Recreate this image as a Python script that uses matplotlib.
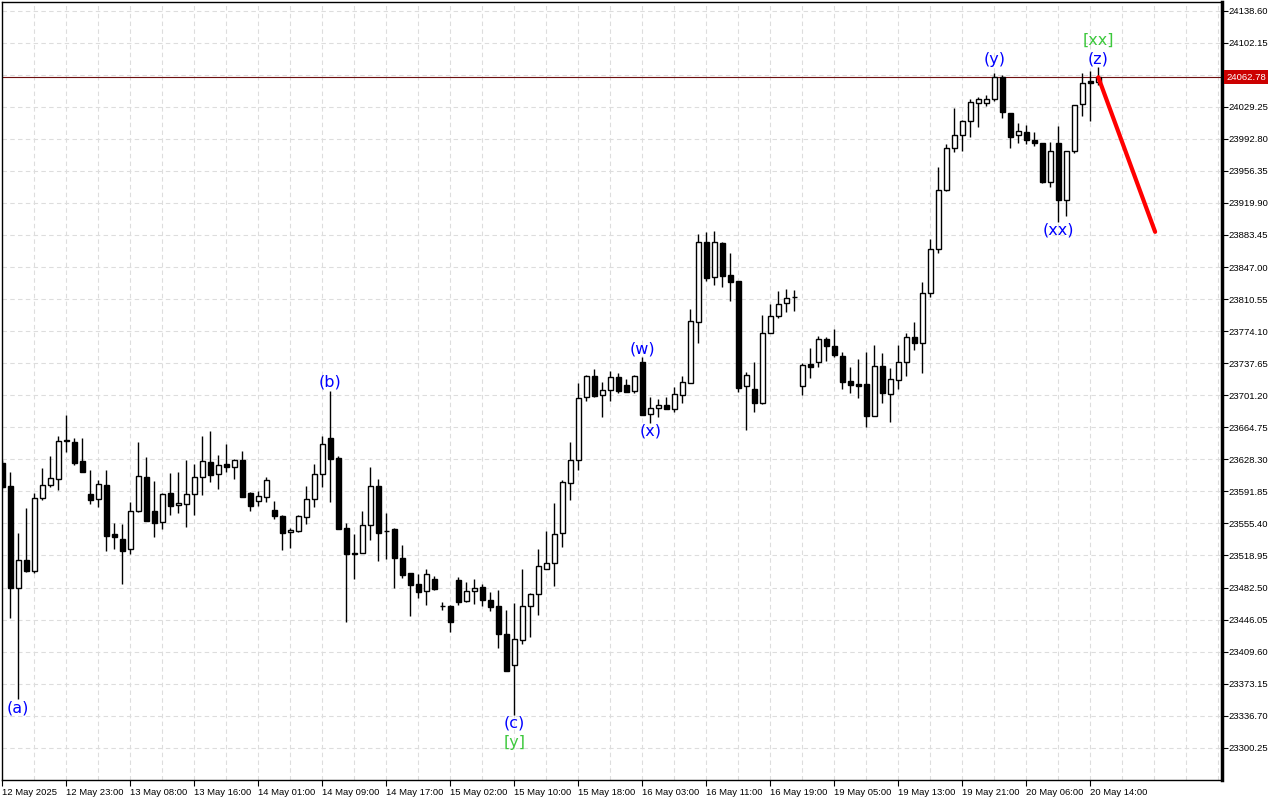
import matplotlib
matplotlib.use("Agg")
import matplotlib.pyplot as plt
import matplotlib.transforms as mtransforms

# ---------------- data ----------------
opens = [23624.5, 23598.0, 23482.3, 23513.5, 23501.7, 23584.0, 23598.8, 23605.6, 23650.3, 23648.0,
         23626.4, 23588.6, 23582.9, 23598.8, 23543.4, 23537.4, 23526.0, 23569.2, 23607.9, 23569.6,
         23556.7, 23590.0, 23576.0, 23577.2, 23588.6, 23607.9, 23625.0, 23611.3, 23623.0, 23619.3,
         23627.6, 23590.4, 23580.6, 23585.8, 23570.7, 23563.9, 23545.3, 23546.8, 23563.1, 23582.9,
         23611.3, 23652.6, 23629.8, 23549.9, 23521.5, 23522.1, 23553.3, 23597.7, 23547.2, 23548.8,
         23516.1, 23498.7, 23486.5, 23478.2, 23492.2, 23461.6, 23461.5, 23490.8, 23466.9, 23478.2,
         23482.8, 23468.0, 23461.2, 23429.7, 23394.1, 23422.5, 23461.2, 23474.8, 23503.9, 23510.1,
         23544.2, 23601.1, 23627.6, 23699.2, 23723.1, 23701.2, 23706.8, 23721.6, 23712.9, 23706.4,
         23738.7, 23679.5, 23686.4, 23689.8, 23685.2, 23701.2, 23715.5, 23784.2, 23875.2, 23835.4,
         23874.4, 23837.6, 23830.8, 23711.7, 23708.0, 23692.1, 23772.3, 23791.7, 23805.8, 23813.2,
         23711.4, 23736.4, 23738.7, 23764.8, 23756.9, 23745.8, 23717.1, 23713.7, 23714.0, 23677.9,
         23734.1, 23702.3, 23718.2, 23738.7, 23767.1, 23760.1, 23817.2, 23867.2, 23934.3, 23982.1,
         23996.8, 24012.8, 24033.2, 24033.2, 24037.8, 24063.2, 24021.9, 23996.8, 24000.3, 23991.2,
         23987.8, 23944.1, 23987.8, 23923.3, 23978.6, 24032.1, 24058.6, 24057.8]
highs = [23627.6, 23613.9, 23544.2, 23573.0, 23589.7, 23618.1, 23632.1, 23654.9, 23678.7, 23652.2,
         23652.2, 23616.2, 23604.8, 23616.2, 23555.6, 23554.4, 23579.5, 23648.0, 23630.6, 23603.7,
         23590.5, 23613.1, 23613.9, 23627.6, 23622.7, 23654.9, 23660.5, 23633.3, 23645.4, 23628.7,
         23637.8, 23591.7, 23592.3, 23608.2, 23580.9, 23565.0, 23549.9, 23564.7, 23598.0, 23623.0,
         23654.9, 23706.4, 23632.1, 23555.6, 23543.4, 23569.6, 23619.9, 23606.0, 23566.9, 23550.2,
         23530.9, 23499.0, 23497.6, 23503.6, 23495.3, 23465.7, 23462.3, 23494.2, 23488.8, 23492.2,
         23486.2, 23477.1, 23479.7, 23457.0, 23464.6, 23503.6, 23476.0, 23526.3, 23546.8, 23579.0,
         23604.8, 23648.0, 23715.5, 23723.7, 23730.7, 23715.9, 23728.4, 23726.9, 23719.3, 23724.2,
         23744.4, 23699.6, 23696.9, 23698.9, 23710.2, 23723.1, 23799.0, 23884.6, 23886.5, 23888.3,
         23875.0, 23862.6, 23831.1, 23728.0, 23738.7, 23792.5, 23805.0, 23819.8, 23821.7, 23820.6,
         23737.5, 23754.6, 23768.6, 23767.1, 23776.2, 23750.4, 23733.3, 23742.1, 23750.4, 23758.0,
         23748.9, 23732.2, 23758.0, 23771.7, 23784.3, 23829.7, 23878.6, 23960.5, 23986.6, 24027.6,
         24014.2, 24038.1, 24040.7, 24042.7, 24067.7, 24065.4, 24022.2, 24010.5, 24008.2, 24000.6,
         23988.1, 23989.6, 24007.1, 23979.0, 24031.3, 24068.0, 24069.6, 24074.2]
lows = [23595.7, 23448.2, 23355.4, 23500.5, 23499.4, 23582.6, 23596.5, 23593.4, 23637.0, 23622.2,
        23613.4, 23577.5, 23574.5, 23524.4, 23526.7, 23486.2, 23521.0, 23568.4, 23557.6, 23539.7,
        23549.4, 23565.0, 23567.6, 23551.7, 23565.0, 23587.8, 23602.9, 23594.6, 23614.3, 23606.0,
        23584.9, 23569.9, 23575.3, 23580.1, 23560.8, 23525.2, 23527.8, 23546.0, 23554.8, 23573.8,
        23596.5, 23580.1, 23548.8, 23443.7, 23491.9, 23521.2, 23536.6, 23513.0, 23514.6, 23482.3,
        23493.0, 23450.5, 23470.3, 23462.7, 23479.7, 23457.0, 23432.3, 23463.0, 23465.7, 23463.5,
        23461.2, 23456.2, 23414.1, 23387.6, 23337.6, 23418.0, 23426.6, 23451.3, 23503.3, 23484.3,
        23529.0, 23582.4, 23616.5, 23695.0, 23699.6, 23676.8, 23695.0, 23704.1, 23704.9, 23704.1,
        23678.7, 23670.0, 23676.8, 23685.0, 23682.5, 23692.1, 23715.1, 23760.3, 23831.5, 23826.3,
        23824.7, 23808.7, 23705.2, 23661.7, 23682.5, 23691.3, 23772.0, 23789.4, 23796.2, 23797.4,
        23701.8, 23721.2, 23733.7, 23739.8, 23745.0, 23708.7, 23704.1, 23698.1, 23665.4, 23677.6,
        23692.7, 23671.1, 23708.7, 23723.1, 23753.0, 23726.9, 23813.3, 23863.3, 23934.0, 23978.2,
        23979.3, 23995.3, 24005.9, 24030.5, 24035.9, 24016.2, 23982.1, 23987.8, 23986.6, 23985.0,
        23942.9, 23938.4, 23898.6, 23905.4, 23977.1, 24018.8, 24013.5, 24054.1]
closes = [23597.2, 23482.3, 23513.5, 23501.7, 23584.0, 23598.8, 23606.8, 23648.8, 23648.8, 23624.5,
          23614.3, 23582.4, 23599.9, 23541.5, 23539.7, 23524.4, 23569.2, 23609.0, 23558.5, 23555.6,
          23588.9, 23575.6, 23578.3, 23588.6, 23607.9, 23626.1, 23610.2, 23621.5, 23619.3, 23627.6,
          23585.8, 23575.6, 23586.3, 23604.3, 23564.2, 23544.9, 23547.6, 23563.9, 23583.2, 23611.3,
          23645.8, 23628.4, 23549.4, 23520.3, 23521.0, 23553.6, 23597.7, 23544.9, 23546.8, 23516.5,
          23497.1, 23485.7, 23477.8, 23497.6, 23480.5, 23461.4, 23443.7, 23465.7, 23478.2, 23481.7,
          23468.0, 23460.7, 23429.3, 23387.9, 23423.6, 23461.2, 23474.8, 23506.7, 23510.1, 23543.4,
          23602.2, 23627.6, 23697.7, 23723.1, 23700.7, 23706.8, 23721.6, 23706.4, 23705.2, 23722.8,
          23679.1, 23686.4, 23689.8, 23685.2, 23702.6, 23716.6, 23785.3, 23875.2, 23834.9, 23875.2,
          23837.2, 23830.3, 23709.8, 23724.2, 23692.1, 23772.3, 23791.7, 23804.6, 23811.5, 23812.7,
          23735.3, 23733.7, 23764.8, 23757.6, 23747.3, 23716.6, 23713.2, 23712.1, 23677.9, 23734.1,
          23704.1, 23719.7, 23738.7, 23767.1, 23760.1, 23817.2, 23867.2, 23934.3, 23982.1, 23996.8,
          24012.8, 24035.1, 24037.8, 24037.8, 24063.2, 24023.0, 23995.3, 24001.4, 23991.5, 23987.8,
          23943.7, 23978.6, 23923.3, 23978.6, 24031.0, 24056.0, 24056.7, 24062.78]

time_labels = ["12 May 2025", "12 May 23:00", "13 May 08:00", "13 May 16:00", "14 May 01:00",
               "14 May 09:00", "14 May 17:00", "15 May 02:00", "15 May 10:00", "15 May 18:00",
               "16 May 03:00", "16 May 11:00", "16 May 19:00", "19 May 05:00", "19 May 13:00",
               "19 May 21:00", "20 May 06:00", "20 May 14:00"]
bars_per_label = 8

price_levels = [24138.60, 24102.15, 24065.70, 24029.25, 23992.80, 23956.35, 23919.90, 23883.45,
                23847.00, 23810.55, 23774.10, 23737.65, 23701.20, 23664.75, 23628.30, 23591.85,
                23555.40, 23518.95, 23482.50, 23446.05, 23409.60, 23373.15, 23336.70, 23300.25]
current_price = 24062.78

# wave labels: (text, bar index, price, colour)
wave_labels = [("(a)", 2, 23345.5, "#0000ff"),
               ("(b)", 41, 23716.3, "#0000ff"),
               ("(c)", 64, 23328.5, "#0000ff"),
               ("[y]", 64, 23306.8, "#3cc83c"),
               ("(w)", 80, 23753.8, "#0000ff"),
               ("(x)", 81, 23660.5, "#0000ff"),
               ("(y)", 124, 24082.5, "#0000ff"),
               ("(xx)", 132, 23889.1, "#0000ff"),
               ("(z)", 137, 24083.6, "#0000ff"),
               ("[xx]", 137, 24105.2, "#3cc83c")]

forecast_bar = 144.1
forecast_price = 23887.0

# ---------------- plot ----------------
W, H = 1280, 800
fig = plt.figure(figsize=(W / 100, H / 100), dpi=100)
fig.patch.set_facecolor("white")
ax = fig.add_axes([2 / W, 20 / H, 1220 / W, 778 / H])
ax.set_facecolor("white")

n = len(opens)
ax.set_xlim(-0.0375, 152.46)
ax.set_ylim(23263.6, 24148.4)

grid_kw = dict(color="#dddddd", lw=0.8, linestyle=(0, (4, 3)), zorder=0)
for p in price_levels:
    ax.axhline(p, **grid_kw)
for k in range(4, 153, 4):
    ax.axvline(k, **grid_kw)

for i in range(n):
    o, h, l, c = opens[i], highs[i], lows[i], closes[i]
    ax.vlines(i, l, h, color="black", lw=1.0, zorder=2)
    bull = c >= o
    lo = min(o, c)
    hgt = max(abs(c - o), 0.4)
    ax.bar(i, hgt, bottom=lo, width=0.62, facecolor="white" if bull else "black",
           edgecolor="black", lw=1.0, zorder=3)

ax.axhline(current_price, color="#6e1010", lw=0.8, zorder=1)

ax.plot([n - 1, forecast_bar], [closes[-1], forecast_price], color="#ff0000", lw=3,
        solid_capstyle="round", zorder=5)

for txt, k, p, col in wave_labels:
    ax.text(k, p, txt, color=col, fontsize=11.5, ha="center", va="center",
            family="DejaVu Sans", zorder=6)

# axes styling
for s in ["left", "top", "bottom"]:
    ax.spines[s].set_linewidth(1.0)
    ax.spines[s].set_color("black")
ax.spines["right"].set_linewidth(2.5)
ax.spines["right"].set_color("black")

ax.yaxis.tick_right()
shown = [p for p in price_levels if abs(p - current_price) > 10]
ax.set_yticks(shown)
ax.set_yticklabels([f"{p:.2f}" for p in shown], family="Liberation Sans", fontsize=6.8)
ax.tick_params(axis="y", direction="out", length=4, width=0.8, pad=1, colors="black")

xt = [i * bars_per_label for i in range(len(time_labels))]
ax.set_xticks(xt)
ax.set_xticklabels(time_labels, family="Liberation Sans", fontsize=6.8, ha="left")
ax.tick_params(axis="x", direction="out", length=4, width=0.8, pad=2, colors="black")

# current price tag
trans = mtransforms.blended_transform_factory(ax.transAxes, ax.transData)
ax.text(1.0035, current_price, f"{current_price:.2f}", transform=trans, ha="left", va="center",
        color="white", fontsize=6.8, family="Liberation Sans", zorder=10, clip_on=False,
        bbox=dict(boxstyle="square,pad=0.25", facecolor="#cc0000", edgecolor="none"))

fig.savefig("out.png", dpi=100, facecolor="white")
